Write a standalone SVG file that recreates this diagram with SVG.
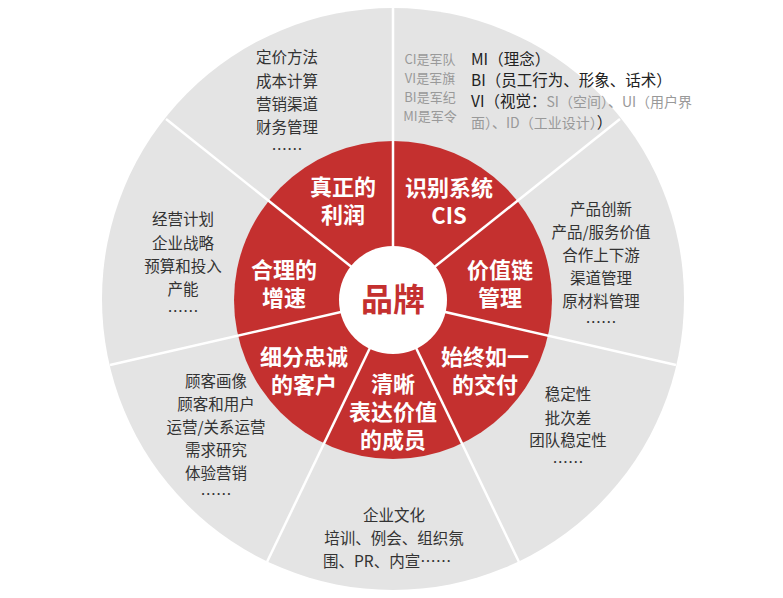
<svg xmlns="http://www.w3.org/2000/svg" width="783" height="598" viewBox="0 0 783 598">
<style>
.w{font-family:"Noto Sans CJK SC","Liberation Sans",sans-serif;font-size:22px;font-weight:bold;fill:#fff;text-anchor:middle}
.g{font-family:"Noto Sans CJK SC","Liberation Sans",sans-serif;font-size:15.5px;fill:#333;text-anchor:middle}
.s{font-family:"Noto Sans CJK SC","Liberation Sans",sans-serif;font-size:13px;fill:#999;text-anchor:middle}
.d{font-family:"Noto Sans CJK SC","Liberation Sans",sans-serif;font-size:15.5px;fill:#222}
.l{fill:#999}
line{stroke:#fff;stroke-width:2.5}
</style>
<rect width="783" height="598" fill="#fff"/>
<circle cx="393" cy="299" r="291" fill="#e4e4e4"/>
<circle cx="393" cy="300" r="159" fill="#c4302f"/>
<g id="connectors">
<line x1="393" y1="300" x2="393" y2="8"/>
<line x1="393" y1="300" x2="620" y2="119"/>
<line x1="393" y1="300" x2="676" y2="365"/>
<line x1="393" y1="300" x2="519" y2="562"/>
<line x1="393" y1="300" x2="267" y2="562"/>
<line x1="393" y1="300" x2="110" y2="365"/>
<line x1="393" y1="300" x2="166" y2="119"/>
</g>
<g id="center"><circle cx="393" cy="300" r="54" fill="#fff"/><text x="393" y="311" font-family="Noto Sans CJK SC,sans-serif" font-size="32" font-weight="bold" fill="#c4302f" text-anchor="middle">品牌</text></g>
<g id="n1"><text class="w" x="343" y="195">真正的</text><text class="w" x="343" y="223">利润</text></g>
<g id="n2"><text class="w" x="449" y="196">识别系统</text><text class="w" x="449" y="224" font-family="Liberation Sans,sans-serif">CIS</text></g>
<g id="n3"><text class="w" x="284" y="278">合理的</text><text class="w" x="284" y="306">增速</text></g>
<g id="n4"><text class="w" x="500" y="278">价值链</text><text class="w" x="500" y="306">管理</text></g>
<g id="n5"><text class="w" x="304" y="365">细分忠诚</text><text class="w" x="304" y="393">的客户</text></g>
<g id="n6"><text class="w" x="485" y="365">始终如一</text><text class="w" x="485" y="393">的交付</text></g>
<g id="n7"><text class="w" x="393" y="392">清晰</text><text class="w" x="393" y="420">表达价值</text><text class="w" x="393" y="448">的成员</text></g>
<g id="t1"><text class="g" x="287" y="63">定价方法</text><text class="g" x="287" y="87">成本计算</text><text class="g" x="287" y="110">营销渠道</text><text class="g" x="287" y="133">财务管理</text><text class="g" x="287" y="155">……</text></g>
<g id="t2"><text class="g" x="183" y="225">经营计划</text><text class="g" x="183" y="249">企业战略</text><text class="g" x="183" y="272">预算和投入</text><text class="g" x="183" y="295">产能</text><text class="g" x="183" y="317">……</text></g>
<g id="t3"><text class="g" x="601" y="215">产品创新</text><text class="g" x="601" y="238">产品/服务价值</text><text class="g" x="601" y="261">合作上下游</text><text class="g" x="601" y="284">渠道管理</text><text class="g" x="601" y="307">原材料管理</text><text class="g" x="601" y="328">……</text></g>
<g id="t4"><text class="g" x="216" y="387">顾客画像</text><text class="g" x="216" y="410">顾客和用户</text><text class="g" x="216" y="433">运营/关系运营</text><text class="g" x="216" y="456">需求研究</text><text class="g" x="216" y="479">体验营销</text><text class="g" x="216" y="500">……</text></g>
<g id="t5"><text class="g" x="568" y="400">稳定性</text><text class="g" x="568" y="424">批次差</text><text class="g" x="568" y="446">团队稳定性</text><text class="g" x="568" y="468">……</text></g>
<g id="t6"><text class="g" x="394" y="521">企业文化</text><text class="g" x="394" y="544">培训、例会、组织氛</text><text class="g" x="323" y="567" style="text-anchor:start">围、PR、内宣……</text></g>
<g id="t7"><text class="s" x="430" y="64">CI是军队</text><text class="s" x="430" y="83">VI是军旗</text><text class="s" x="430" y="102">BI是军纪</text><text class="s" x="430" y="121">MI是军令</text>
<text class="d" x="471" y="65">MI（理念）</text>
<text class="d" x="471" y="86">BI（员工行为、形象、话术）</text>
<text class="d" x="471" y="107">VI（视觉：<tspan class="l" font-size="14">SI（空间）、UI（用户界</tspan></text>
<text class="d" x="471" y="128"><tspan class="l" font-size="14">面）、ID（工业设计）</tspan>）</text></g>
</svg>
